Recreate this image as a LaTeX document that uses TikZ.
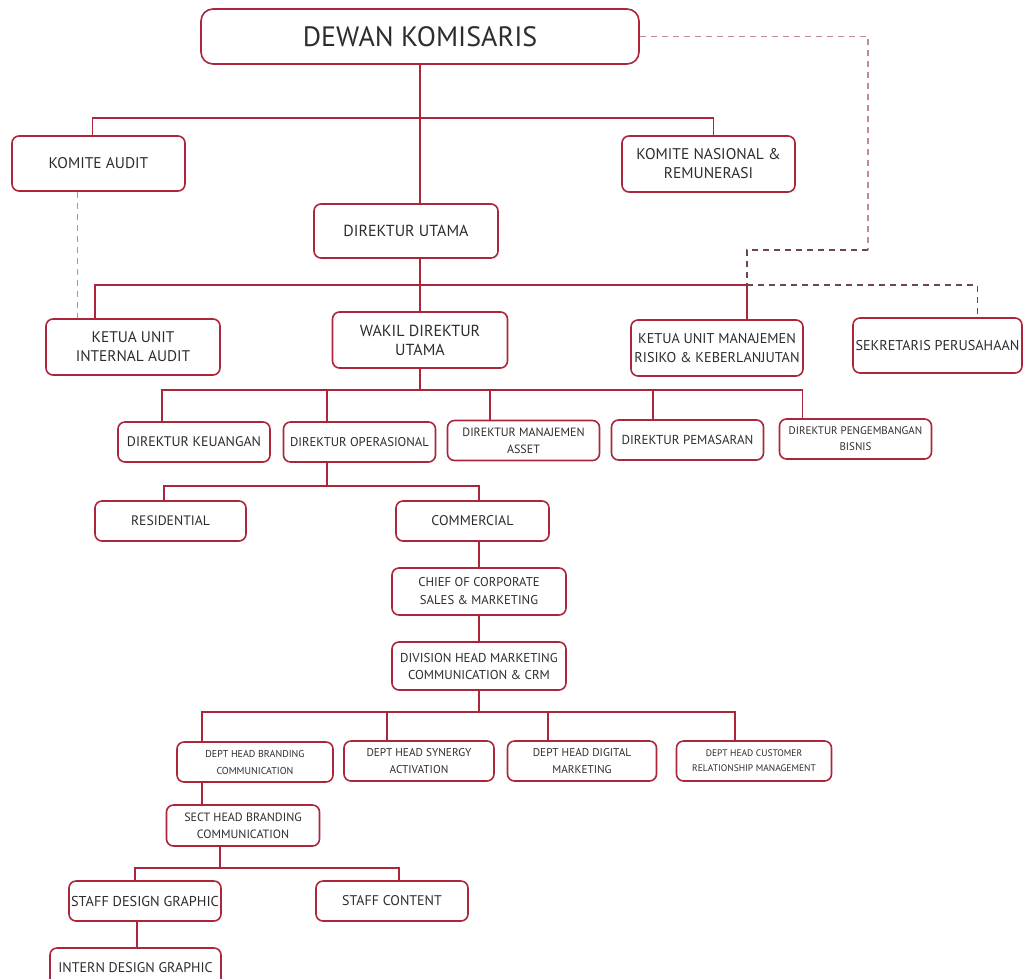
\documentclass[tikz,border=0pt]{standalone}
\usepackage{fontspec}
\setmainfont{PT Sans}
\usetikzlibrary{positioning}
\definecolor{boxred}{RGB}{172,38,58}
\definecolor{dashred}{RGB}{110,70,80}
\definecolor{dashpink}{RGB}{185,140,150}
\definecolor{txtgray}{RGB}{45,45,45}
\tikzset{
    box/.style={draw=boxred, text=txtgray, rounded corners=7pt, line width=1.6pt, align=center, inner sep=2pt, minimum height=#1},
    box/.default={40pt},
    link/.style={draw=boxred, line width=1.7pt},
    dlink/.style={draw=#1, line width=1.6pt, dash pattern=on 6pt off 5pt},
    dlink/.default={dashred}
}
\newcommand{\fsz}[2]{\fontsize{#1}{#2}\selectfont}

\begin{document}
\begin{tikzpicture}[x=1pt, y=-1pt]
    \useasboundingbox (0,0) rectangle (1027,978);
    \node[box=55pt, minimum width=438pt, rounded corners=12pt, font=\fsz{28}{32}](DK) at (420,36.5){DEWAN KOMISARIS};
    \node[box=55pt, minimum width=173pt, font=\fsz{15.5}{18}](KA) at (98.5,163.5){KOMITE AUDIT};
    \node[box=56pt, minimum width=173pt, font=\fsz{15.5}{19}](KN) at (708.5,164){KOMITE NASIONAL \&\\REMUNERASI};
    \node[box=54pt, minimum width=184pt, font=\fsz{16}{18}](DU) at (406,231){DIREKTUR UTAMA};
    \node[box=56pt, minimum width=174pt, font=\fsz{15.4}{19}](KIU) at (133,347){KETUA UNIT\\INTERNAL AUDIT};
    \node[box=56pt, minimum width=175pt, font=\fsz{16}{19}](WDU) at (420,340){WAKIL DIREKTUR\\UTAMA};
    \node[box=56pt, minimum width=172pt, font=\fsz{14.2}{19}](KMR) at (717,348){KETUA UNIT MANAJEMEN\\RISIKO \& KEBERLANJUTAN};
    \node[box=55pt, minimum width=169pt, font=\fsz{14.2}{17}](SP) at (937.5,345.5){SEKRETARIS PERUSAHAAN};
    \node[box, minimum width=152pt, font=\fsz{13.9}{16}](D1) at (194,442){DIREKTUR KEUANGAN};
    \node[box, minimum width=152pt, font=\fsz{12.7}{15}](D2) at (359.5,442){DIREKTUR OPERASIONAL};
    \node[box, minimum width=152pt, font=\fsz{12}{17}](D3) at (523.5,440.5){DIREKTUR MANAJEMEN\\ASSET};
    \node[box, minimum width=152pt, font=\fsz{13}{15}](D4) at (687.5,440){DIREKTUR PEMASARAN};
    \node[box, minimum width=152pt, font=\fsz{11}{16}](D5) at (855.5,439){DIREKTUR PENGEMBANGAN\\BISNIS};
    \node[box, minimum width=151pt, font=\fsz{13.7}{16}](R1) at (170.5,521){RESIDENTIAL};
    \node[box, minimum width=153pt, font=\fsz{14}{16}](R2) at (472.5,521){COMMERCIAL};
    \node[box=47pt, minimum width=174pt, font=\fsz{12.7}{18}](C1) at (479,591.5){CHIEF OF CORPORATE\\SALES \& MARKETING};
    \node[box=48pt, minimum width=174pt, font=\fsz{12.9}{17}](C2) at (479,666){DIVISION HEAD MARKETING\\COMMUNICATION \& CRM};
    \node[box, minimum width=156pt, font=\fsz{10}{17}](H1) at (255,762){DEPT HEAD BRANDING\\COMMUNICATION};
    \node[box, minimum width=150pt, font=\fsz{11.3}{17}](H2) at (419,761){DEPT HEAD SYNERGY\\ACTIVATION};
    \node[box, minimum width=149pt, font=\fsz{11.3}{17}](H3) at (582,761){DEPT HEAD DIGITAL\\MARKETING};
    \node[box, minimum width=155pt, font=\fsz{9.5}{15}](H4) at (754,761){DEPT HEAD CUSTOMER\\RELATIONSHIP MANAGEMENT};
    \node[box=41pt, minimum width=153pt, font=\fsz{12}{17}](S1) at (243,825.5){SECT HEAD BRANDING\\COMMUNICATION};
    \node[box, minimum width=152pt, font=\fsz{14.3}{16}](F1) at (145,901){STAFF DESIGN GRAPHIC};
    \node[box, minimum width=152pt, font=\fsz{14}{16}](F2) at (392,901){STAFF CONTENT};
    \node[box, minimum width=171pt, font=\fsz{14}{16}](I1) at (135.5,968){INTERN DESIGN GRAPHIC};
    \coordinate (B1) at (420,118);
    \coordinate (B2) at (420,285);
    \coordinate (B2r) at (747,285);
    \coordinate (DT) at (868,250);
    \coordinate (B3) at (420,390);
    \coordinate (B4) at (327,486);
    \coordinate (B5) at (479,712);
    \coordinate (B6) at (220,868);
    \draw[link](DK.south)--(DK.south |- DU.north); \draw[link](DU.south -| DK.south)--(WDU.north);
    \draw[link]([xshift=-6pt]KA.north) |- (B1) -| ([xshift=5pt]KN.north);
    \draw[link]([xshift=-38pt]KIU.north) |- (B2r)--([xshift=30pt]KMR.north);
    \draw[dlink=dashpink](DK.east) -| (DT); \draw[dlink](DT) -| (B2r); \draw[dlink](B2r) -| ([xshift=40pt]SP.north);
    \draw[dlink=dashpink]([xshift=-21pt]KA.south)--([xshift=-21pt]KA.south |- KIU.north);
    \draw[link](WDU.south)--(B3);
    \draw[link]([xshift=-32pt]D1.north) |- (B3) -| ([xshift=-53pt]D5.north);
    \draw[link]([xshift=-32.5pt]D2.north)--([xshift=-32.5pt]D2.north |- B3); \draw[link]([xshift=-33.5pt]D3.north)--([xshift=-33.5pt]D3.north |- B3);
    \draw[link]([xshift=-34.5pt]D4.north)--([xshift=-34.5pt]D4.north |- B3);
    \draw[link]([xshift=-32.5pt]D2.south)--(B4);
    \draw[link]([xshift=-6.5pt]R1.north) |- (B4) -| ([xshift=6.5pt]R2.north);
    \draw[link]([xshift=6.5pt]R2.south)--(C1.north); \draw[link](C1.south)--(C2.north);
    \draw[link](C2.south)--(B5);
    \draw[link]([xshift=-53pt]H1.north) |- (B5) -| ([xshift=-19pt]H4.north);
    \draw[link]([xshift=-32pt]H2.north)--([xshift=-32pt]H2.north |- B5); \draw[link]([xshift=-34pt]H3.north)--([xshift=-34pt]H3.north |- B5);
    \draw[link]([xshift=-53pt]H1.south)--([xshift=-53pt]H1.south |- S1.north);
    \draw[link]([xshift=-23pt]S1.south)--(B6);
    \draw[link]([xshift=-10pt]F1.north) |- (B6) -| ([xshift=7pt]F2.north);
    \draw[link]([xshift=-8pt]F1.south)--([xshift=-8pt]F1.south |- I1.north);
\end{tikzpicture}
\end{document}
